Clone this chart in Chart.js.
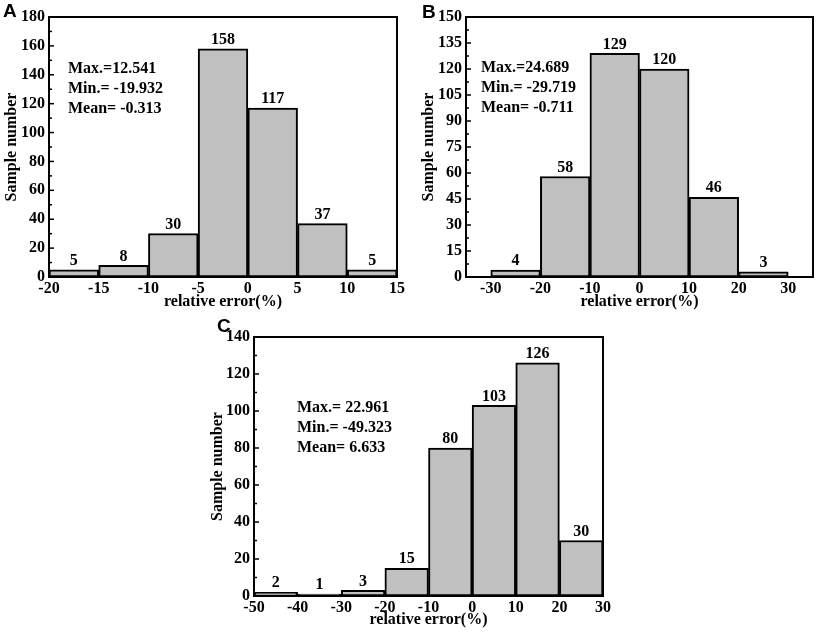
<!DOCTYPE html>
<html>
<head>
<meta charset="utf-8">
<script src="https://cdn.jsdelivr.net/npm/chart.js@4.4.0/dist/chart.umd.min.js"></script>
<style>
  html, body { margin: 0; padding: 0; background: #fff; }
  #wrap { position: relative; width: 816px; height: 634px; overflow: hidden; }
  canvas { position: absolute; }
</style>
</head>
<body>
<div id="wrap">
  <canvas id="chA" width="408" height="310" style="left:0;top:0"></canvas>
  <canvas id="chB" width="408" height="310" style="left:408px;top:0"></canvas>
  <canvas id="chC" width="416" height="324" style="left:200px;top:310px"></canvas>
</div>
<script>
// ── datos: centros de clase y frecuencias ─────────────────────────────────
const binsA   = [-17.5, -12.5, -7.5, -2.5, 2.5, 7.5, 12.5];
const countsA = [5, 8, 30, 158, 117, 37, 5];
const xTicksA = [-20, -15, -10, -5, 0, 5, 10, 15];
const yTicksA = [0, 20, 40, 60, 80, 100, 120, 140, 160, 180];
const statsA  = ['Max.=12.541', 'Min.= -19.932', 'Mean= -0.313'];

const binsB   = [-25, -15, -5, 5, 15, 25];
const countsB = [4, 58, 129, 120, 46, 3];
const xTicksB = [-30, -20, -10, 0, 10, 20, 30];
const yTicksB = [0, 15, 30, 45, 60, 75, 90, 105, 120, 135, 150];
const statsB  = ['Max.=24.689', 'Min.= -29.719', 'Mean= -0.711'];

const binsC   = [-45, -35, -25, -15, -5, 5, 15, 25];
const countsC = [2, 1, 3, 15, 80, 103, 126, 30];
const xTicksC = [-50, -40, -30, -20, -10, 0, 10, 20, 30];
const yTicksC = [0, 20, 40, 60, 80, 100, 120, 140];
const statsC  = ['Max.= 22.961', 'Min.= -49.323', 'Mean= 6.633'];

const SERIF = '"Liberation Serif", "Times New Roman", serif';
const SANS  = '"Liberation Sans", Arial, sans-serif';

// ── marco, ticks hacia dentro, etiquetas de valor y textos ───────────────
const decoPlugin = {
    id: 'deco',
    afterDatasetsDraw(chart, args, o) {
        const { ctx, chartArea: ca } = chart;
        const ys = chart.scales.y;
        ctx.save();
        ctx.strokeStyle = '#000';
        // ticks menores y mayores en el eje izquierdo
        ctx.lineWidth = 1.5;
        const yt = o.yTicks;
        for (let i = 0; i < yt.length; i++) {
            const py = ys.getPixelForValue(yt[i]);
            ctx.beginPath(); ctx.moveTo(ca.left, py); ctx.lineTo(ca.left + 5, py); ctx.stroke();
            if (i < yt.length - 1) {
                const pm = ys.getPixelForValue((yt[i] + yt[i + 1]) / 2);
                ctx.beginPath(); ctx.moveTo(ca.left, pm); ctx.lineTo(ca.left + 3, pm); ctx.stroke();
            }
        }
        ctx.lineWidth = 2;
        ctx.strokeRect(ca.left, ca.top, ca.right - ca.left, ca.bottom - ca.top);
        // valores encima de las barras
        ctx.fillStyle = '#000';
        ctx.font = `bold 16px ${SERIF}`;
        ctx.textAlign = 'center';
        ctx.textBaseline = 'bottom';
        const meta = chart.getDatasetMeta(0);
        meta.data.forEach((bar, i) => {
            ctx.fillText(String(chart.data.datasets[0].data[i].y), bar.x, bar.y - 1);
        });
        // estadisticos
        ctx.textAlign = 'left';
        ctx.textBaseline = 'alphabetic';
        o.stats.forEach((s, i) => ctx.fillText(s, o.statsX, o.statsY + i * 20));
        // letra del panel
        ctx.font = `bold 19px ${SANS}`;
        ctx.fillText(o.letter, o.letterX, o.letterY);
        ctx.restore();
    },
};

function buildHist(id, bins, counts, xTicks, yTicks, stats, lay) {
    const ctx = document.getElementById(id).getContext('2d');
    return new Chart(ctx, {
        type: 'bar',
        data: {
            datasets: [{
                data: bins.map((b, i) => ({ x: b, y: counts[i] })),
                backgroundColor: '#c0c0c0',
                borderColor: '#000',
                borderWidth: 2,
                borderSkipped: false,
                barPercentage: 1,
                categoryPercentage: 1,
            }],
        },
        options: {
            responsive: false, animation: false,
            layout: { padding: { top: lay.top, right: lay.right, left: 0, bottom: 0 } },
            plugins: {
                legend: { display: false }, tooltip: { enabled: false },
                deco: { yTicks, stats, statsX: lay.statsX, statsY: lay.statsY, letter: lay.letter, letterX: lay.letterX, letterY: lay.letterY },
            },
            scales: {
                x: {
                    type: 'linear', offset: false, min: lay.xMin, max: lay.xMax,
                    afterBuildTicks: s => { s.ticks = xTicks.map(v => ({ value: v })); },
                    afterFit: s => { s.height = lay.xH; },
                    grid: { display: false, drawTicks: false }, border: { display: false },
                    ticks: { color: '#000', padding: 2, maxRotation: 0, autoSkip: false, font: { family: SERIF, size: 16, weight: 'bold' } },
                    title: { display: true, text: 'relative error(%)', color: '#000', padding: { top: 0, bottom: lay.xTitlePad }, font: { family: SERIF, size: 16, weight: 'bold', lineHeight: 1 } },
                },
                y: {
                    min: 0, max: yTicks[yTicks.length - 1],
                    afterBuildTicks: s => { s.ticks = yTicks.map(v => ({ value: v })); },
                    afterFit: s => { s.width = lay.yW; },
                    grid: { display: false, drawTicks: false }, border: { display: false },
                    ticks: { color: '#000', padding: 4, font: { family: SERIF, size: 16, weight: 'bold' } },
                    title: { display: true, text: 'Sample number', color: '#000', padding: { top: lay.yTitlePad, bottom: 0 }, font: { family: SERIF, size: 16, weight: 'bold', lineHeight: 1 } },
                },
            },
        },
        plugins: [decoPlugin],
    });
}

buildHist('chA', binsA, countsA, xTicksA, yTicksA, statsA, {
    top: 17, right: 11, xH: 33, yW: 49, xMin: -20, xMax: 15, xTitlePad: 0, yTitlePad: 4,
    statsX: 68, statsY: 73, letter: 'A', letterX: 3, letterY: 17,
});
buildHist('chB', binsB, countsB, xTicksB, yTicksB, statsB, {
    top: 17, right: 3, xH: 33, yW: 58, xMin: -35, xMax: 35, xTitlePad: 0, yTitlePad: 13,
    statsX: 73, statsY: 72, letter: 'B', letterX: 14, letterY: 18,
});
buildHist('chC', binsC, countsC, xTicksC, yTicksC, statsC, {
    top: 27, right: 13, xH: 38, yW: 54, xMin: -50, xMax: 30, xTitlePad: 6, yTitlePad: 10,
    statsX: 97, statsY: 102, letter: 'C', letterX: 17, letterY: 22,
});
</script>
</body>
</html>
